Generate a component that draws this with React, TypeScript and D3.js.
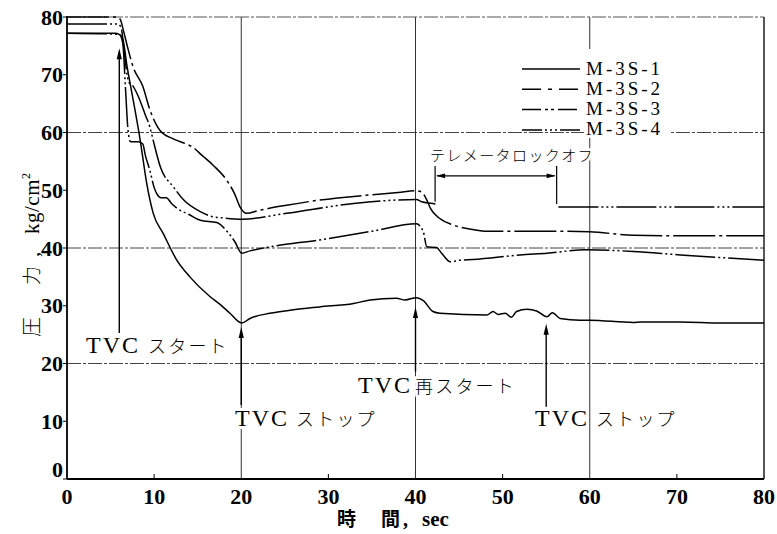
import React from 'react';
import * as d3 from 'd3';

const W = 777;
const H = 534;

// Axis ticks (time in sec, pressure in kg/cm²)
const xTickValues = [0, 10, 20, 30, 40, 50, 60, 70, 80];
const yTickValues = [0, 10, 20, 30, 40, 50, 60, 70, 80];
const xGridValues = [20, 40, 60];
const yGridValues = [20, 40, 60];
const xMinorTicks = [10, 30, 50, 70];

// Pressure histories [time, pressure]
const m3s1: [number, number][] = [
  [0, 77.2], [5.5, 77.2], [6.0, 77.0], [6.4, 76.2], [6.9, 71.4], [7.6, 65.6], [8.4, 58.7],
  [9.15, 51.2], [9.9, 46.0], [11.05, 42.5], [12.6, 37.9], [14.1, 35.0], [16.4, 31.6],
  [17.6, 30.2], [18.7, 28.7], [20.05, 27.0], [21.0, 27.8], [23.3, 28.7], [26, 29.3],
  [29.0, 29.8], [32.9, 30.4], [34.8, 31.0], [37.8, 31.3], [38.8, 31.0], [40.1, 31.4],
  [40.9, 30.9], [42.0, 29.0], [42.8, 28.7], [48.2, 28.4], [48.9, 29.0], [49.5, 28.5],
  [50.3, 28.7], [51.0, 28.0], [51.6, 29.0], [52.8, 29.4], [53.9, 29.1], [55.1, 28.1],
  [55.7, 28.8], [56.6, 27.8], [58.9, 27.5], [60, 27.5], [65, 27.1], [65.8, 27.2],
  [70.4, 27.2], [75, 27.0], [80, 27.0],
];

const m3s2: [number, number][] = [
  [0, 80], [5.6, 80], [6.1, 79.6], [6.5, 77.5], [7.0, 74.5], [7.6, 71.3], [8.7, 68.0],
  [9.5, 64.0], [10.2, 61.5], [10.7, 60.3], [12.2, 58.9], [13.7, 58.0], [14.5, 57.4],
  [15.3, 56.3], [16.8, 54.3], [18.3, 51.8], [19.2, 49.5], [19.9, 47.0], [20.6, 46.0],
  [22, 46.5], [25.2, 47.4], [29.0, 48.3], [34.8, 49.2], [38, 49.6], [40.1, 49.9],
  [40.7, 49.7], [41.3, 48.3], [41.7, 46.9], [42.8, 45.1], [44.3, 44.0], [46.6, 43.2],
  [48.2, 42.9], [52, 42.9], [56, 42.9], [60, 42.8], [65, 42.2], [70.4, 42.1], [80, 42.1],
];

const m3s3: [number, number][] = [
  [0, 77.2], [6.0, 77.0], [6.4, 75.5], [6.7, 68.0], [7.0, 60.5], [7.3, 58.4], [8.2, 58.4],
  [8.7, 58.0], [9.0, 56.0], [9.5, 53.5], [10.0, 50.5], [10.3, 49.4], [10.8, 48.7],
  [11.4, 48.7], [12.0, 47.7], [12.6, 46.9], [14.0, 45.8], [15.3, 44.8], [17.2, 44.4],
  [18.3, 43.0], [19.3, 41.0], [20.05, 39.1], [21, 39.5], [23.3, 40.2], [29.0, 41.4],
  [35, 42.9], [40.1, 44.2], [40.9, 42.8], [41.3, 40.2], [42.4, 40.1], [43.0, 39.1],
  [44.0, 37.6], [45.1, 37.9], [46.6, 38.0], [52, 38.8], [55.1, 39.1], [59.6, 39.7],
  [65, 39.4], [70.4, 38.8], [80, 37.9],
];

// M-3S-4 has a gap while telemetry lock was lost
const m3s4Before: [number, number][] = [
  [0, 78.8], [5.8, 78.8], [6.2, 78.2], [6.5, 75.0], [6.8, 71.0], [7.1, 68.7], [7.5, 68.2],
  [8.2, 66.2], [9.0, 63.0], [9.5, 61.0], [10.0, 58.0], [10.7, 54.1], [12.2, 50.6],
  [13.4, 48.3], [15.3, 46.3], [16.8, 45.4], [18.0, 45.2], [20.05, 45.0], [25.2, 46.0],
  [32.9, 47.7], [40.1, 48.4], [40.7, 48.0], [42.0, 47.7], [42.3, 47.6],
];
const m3s4After: [number, number][] = [[56.4, 47.1], [80, 47.1]];

const seriesNames = ['M-3S-1', 'M-3S-2', 'M-3S-3', 'M-3S-4'];
const seriesData = [[m3s1], [m3s2], [m3s3], [m3s4Before, m3s4After]];
const curveDash = ['none', '42,4,3,4', '40,3,2,3,2,3', '40,3,2,3,2,3,2,3'];
const legendDash = ['none', '19,7,4,7', '19,4,3,3,3,4', '20,3,2,3,2,3,2,3'];

// Event arrows: time, tip pressure, tail pressure
const arrowTimes = [6, 20, 40, 55];
const arrowTips = [74.6, 26.3, 29.8, 26.9];
const arrowTails = [25.3, 12.8, 18.6, 12.5];

// Telemetry lock-off interval
const lockOffStart = 42.25;
const lockOffEnd = 56.2;

const LATIN = '"Liberation Serif", "DejaVu Serif", serif';
const CJK = '"Noto Sans CJK JP", "Noto Sans CJK SC", sans-serif';

const x = d3.scaleLinear().domain([0, 80]).range([67, 764]);
const y = d3.scaleLinear().domain([0, 80]).range([479, 17]);

const line = d3
  .line<[number, number]>()
  .x((d) => x(d[0]))
  .y((d) => y(d[1]))
  .curve(d3.curveMonotoneX);

const knock = {
  paintOrder: 'stroke' as const,
  stroke: '#fff',
  strokeWidth: 6,
  strokeLinejoin: 'round' as const,
};

function ArrowUp({ t, tip, tail }: { t: number; tip: number; tail: number }) {
  const px = x(t);
  const ty = y(tip);
  return (
    <g>
      <line x1={px} x2={px} y1={y(tail)} y2={ty + 6} stroke="#000" strokeWidth={1.4} />
      <path d={`M${px},${ty} L${px - 2.6},${ty + 11} L${px + 2.6},${ty + 11} Z`} fill="#000" />
    </g>
  );
}

function EventLabel({
  px,
  baseline,
  head,
  tail,
  gap,
}: {
  px: number;
  baseline: number;
  head: string;
  tail: string;
  gap: number;
}) {
  return (
    <text x={px} y={baseline} style={knock} fill="#000">
      <tspan fontFamily={LATIN} fontSize={24} letterSpacing={2}>
        {head}
      </tspan>
      <tspan dx={gap} fontFamily={CJK} fontSize={18} letterSpacing={2.2} fontWeight={300}>
        {tail}
      </tspan>
    </text>
  );
}

export default function App() {
  const legendX0 = 522;
  const legendX1 = 580;
  const legendY0 = 69;
  const legendStep = 20.3;

  return (
    <svg
      width={W}
      height={H}
      viewBox={`0 0 ${W} ${H}`}
      style={{ position: 'absolute', left: 0, top: 0, background: '#fff' }}
    >
      <rect x={0} y={0} width={W} height={H} fill="#fff" />

      {/* grid */}
      {yGridValues.map((v) => (
        <line
          key={`gy${v}`}
          x1={x(0)}
          x2={x(80)}
          y1={y(v)}
          y2={y(v)}
          stroke="#444"
          strokeWidth={1}
          strokeDasharray="14,2,3,2"
        />
      ))}
      {xGridValues.map((v) => (
        <line key={`gx${v}`} x1={x(v)} x2={x(v)} y1={y(80)} y2={y(0)} stroke="#333" strokeWidth={1} />
      ))}
      {/* frame */}
      <line x1={x(0)} x2={x(80)} y1={y(80)} y2={y(80)} stroke="#555" strokeWidth={1} strokeDasharray="14,2,3,2" />
      <line x1={x(80)} x2={x(80)} y1={y(80)} y2={y(0)} stroke="#111" strokeWidth={1.4} />
      <line x1={x(0)} x2={x(0)} y1={y(80) - 1} y2={y(0)} stroke="#000" strokeWidth={1.8} />
      <line x1={x(0)} x2={x(80)} y1={y(0)} y2={y(0)} stroke="#000" strokeWidth={1.8} />

      {/* ticks */}
      {yTickValues.map((v) => (
        <line key={`ty${v}`} x1={x(0) - 4} x2={x(0)} y1={y(v)} y2={y(v)} stroke="#000" strokeWidth={1} />
      ))}
      {xMinorTicks.map((v) => (
        <line key={`tx${v}`} x1={x(v)} x2={x(v)} y1={y(0)} y2={y(0) - 5} stroke="#000" strokeWidth={1} />
      ))}

      {/* tick labels */}
      {yTickValues.map((v) => (
        <text
          key={`ly${v}`}
          x={x(0) - 4}
          y={v === 0 ? y(v) - 2 : y(v) + 7.5}
          textAnchor="end"
          fontFamily={LATIN}
          fontWeight={700}
          fontSize={22}
          fill="#000"
        >
          {v}
        </text>
      ))}
      {xTickValues.map((v) => (
        <text
          key={`lx${v}`}
          x={x(v)}
          y={504}
          textAnchor="middle"
          fontFamily={LATIN}
          fontWeight={700}
          fontSize={22}
          fill="#000"
        >
          {v}
        </text>
      ))}

      {/* axis titles */}
      <g fill="#000">
        <text x={337} y={526} fontFamily={CJK} fontWeight={700} fontSize={19}>
          時
        </text>
        <text x={381} y={526} fontFamily={CJK} fontWeight={700} fontSize={19}>
          間
        </text>
        <text x={403} y={526} fontFamily={LATIN} fontWeight={700} fontSize={20}>
          ,
        </text>
        <text x={422} y={526} fontFamily={LATIN} fontWeight={700} fontSize={21}>
          sec
        </text>
      </g>
      <g transform="translate(39,337) rotate(-90)" fill="#000">
        <text x={0} y={0} fontFamily={CJK} fontSize={20} fontWeight={300}>
          圧
        </text>
        <text x={52} y={0} fontFamily={CJK} fontSize={19} fontWeight={300}>
          力
        </text>
        <text x={80} y={0} fontFamily={LATIN} fontSize={21}>
          ,
        </text>
        <text x={103} y={0} fontFamily={LATIN} fontSize={21} letterSpacing={0.5}>
          kg/cm
        </text>
        <text x={158} y={-9} fontFamily={LATIN} fontSize={12}>
          2
        </text>
      </g>

      {/* curves */}
      {seriesData.map((segs, i) =>
        segs.map((seg, j) => (
          <path
            key={`s${i}-${j}`}
            d={line(seg) || ''}
            fill="none"
            stroke="#000"
            strokeWidth={1.5}
            strokeDasharray={curveDash[i]}
            strokeLinejoin="round"
          />
        ))
      )}

      {/* telemetry lock-off bracket */}
      <g stroke="#000" strokeWidth={1.2}>
        <line x1={x(lockOffStart)} x2={x(lockOffStart)} y1={y(54.2)} y2={y(48)} />
        <line x1={x(lockOffEnd)} x2={x(lockOffEnd)} y1={y(54.2)} y2={y(47.6)} />
        <line x1={x(lockOffStart) + 2} x2={x(lockOffEnd) - 2} y1={y(52.5)} y2={y(52.5)} />
      </g>
      <path
        d={`M${x(lockOffStart) + 1},${y(52.5)} l9,-2.4 l0,4.8 Z M${x(lockOffEnd) - 1},${y(52.5)} l-9,-2.4 l0,4.8 Z`}
        fill="#000"
      />
      <text
        x={430}
        y={161}
        fontFamily={CJK}
        fontSize={15}
        fontWeight={300}
        letterSpacing={1.4}
        fill="#000"
        style={knock}
      >
        テレメータロックオフ
      </text>

      {/* legend */}
      <rect x={584} y={49} width={86} height={89} fill="#fff" />
      {seriesNames.map((name, i) => {
        const ly = legendY0 + i * legendStep;
        return (
          <g key={name}>
            <line
              x1={legendX0}
              x2={legendX1}
              y1={ly}
              y2={ly}
              stroke="#000"
              strokeWidth={1.5}
              strokeDasharray={legendDash[i]}
            />
            <text
              x={586}
              y={ly + 5.5}
              fontFamily={LATIN}
              fontSize={19}
              letterSpacing={3}
              fill="#000"
            >
              {name}
            </text>
          </g>
        );
      })}

      {/* event labels */}
      <EventLabel px={86} baseline={353} head="TVC" tail="スタート" gap={8} />
      <EventLabel px={235} baseline={426} head="TVC" tail="ストップ" gap={7} />
      <EventLabel px={358} baseline={393} head="TVC" tail="再スタート" gap={3} />
      <EventLabel px={535} baseline={426} head="TVC" tail="ストップ" gap={7} />

      {/* event arrows */}
      {arrowTimes.map((t, i) => (
        <ArrowUp key={`a${t}`} t={t} tip={arrowTips[i]} tail={arrowTails[i]} />
      ))}
    </svg>
  );
}
